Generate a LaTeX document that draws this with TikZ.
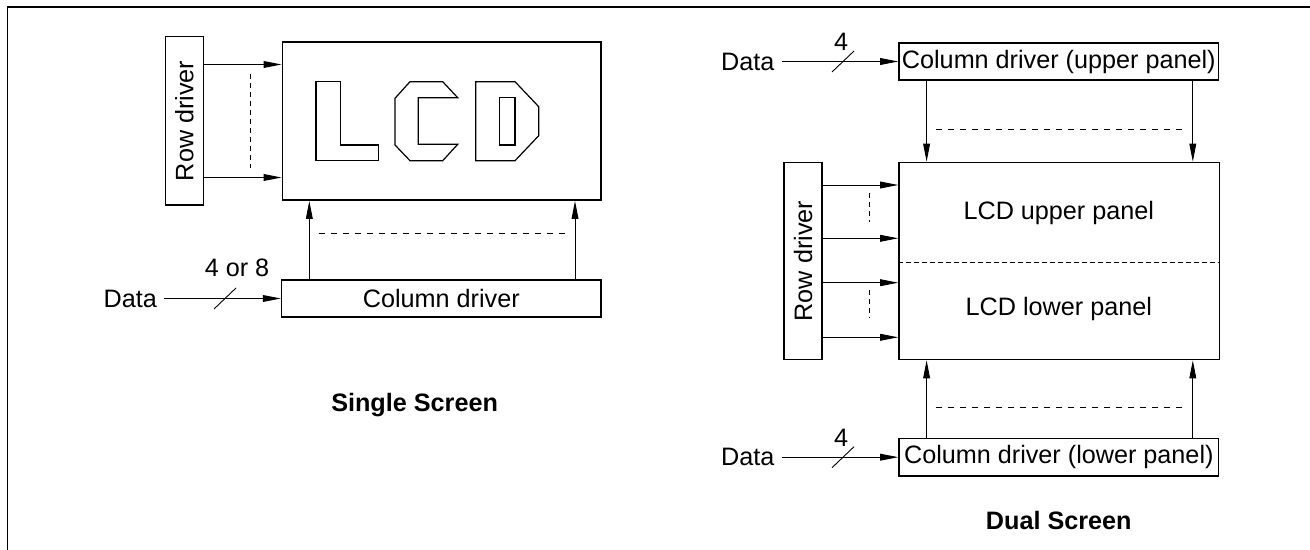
\documentclass[tikz,border=0pt]{standalone}
\usepackage{fontspec}
\setmainfont{Liberation Sans}
\usetikzlibrary{arrows.meta}

\tikzset{
    box/.style={draw, line width=0.85pt, inner sep=0pt},
    arr/.style={-{Triangle[length=9pt,width=3.4pt]}, line width=0.45pt},
    gap/.style={dash pattern=on 3pt off 3pt, line width=0.45pt},
    vgap/.style={dash pattern=on 2.5pt off 2pt, line width=0.45pt},
    glyph/.style={line width=0.6pt, line join=miter},
    txt/.style={font=\fontsize{12.6}{14}\selectfont},
    title/.style={font=\fontsize{12.6}{14}\selectfont\bfseries}
}

\begin{document}
\begin{tikzpicture}[x=0.5pt, y=-0.5pt]
    \useasboundingbox (0,0) rectangle (1310,550);
    \draw[line width=0.8pt] (7.3,550) -- (7.3,7) -- (1310,7);

    % single screen
    \node[box, minimum width=19pt, minimum height=84.3pt, txt] (rowA) at (184.4,120.9) {\rotatebox{90}{Row driver}};
    \node[box, minimum width=159.3pt, minimum height=79pt] (lcdA) at (441.7,121.1) {};
    \node[box, minimum width=159.7pt, minimum height=18.5pt, txt] (colA) at (441.3,298.5) {Column driver};
    \node[anchor=east, txt] (dataA) at (164,298.5) {Data};
    \node[txt] (busA) at (237,268) {4 or 8};
    \node[title] (titleA) at (414.6,405) {Single Screen};

    \draw[glyph] (316,81.7) -- (340.3,81.7) -- (340.3,145) -- (378.7,145) -- (378.7,160.7) -- (316,160.7) -- cycle;
    \draw[glyph] (410,81.7) -- (442.7,81.7) -- (457.7,97.7) -- (418.3,97.7) -- (418.3,144.3) -- (457.7,144.3)
        -- (442.7,160.7) -- (410,160.7) -- (395,145) -- (395,98.3) -- cycle;
    \draw[glyph] (475.7,81.7) -- (515,81.7) -- (538.7,106.7) -- (538.7,135.7) -- (515,160.7) -- (475.7,160.7) -- cycle;
    \draw[glyph] (499.3,97.3) rectangle (515,145);

    \draw[arr] (rowA.east |- 0,64.5) -- (lcdA.west |- 0,64.5);
    \draw[arr] (rowA.east |- 0,177.5) -- (lcdA.west |- 0,177.5);
    \draw[vgap] (250.4,73.7) -- (250.4,168.4);
    \draw[arr] (colA.north -| 309.3,0) -- (lcdA.south -| 309.3,0);
    \draw[arr] (colA.north -| 575,0) -- (lcdA.south -| 575,0);
    \draw[gap] (318.6,233) -- (570.3,233);
    \draw[arr] (dataA.east) -- (colA.west);
    \draw[line width=0.45pt] (225,298.5) +(-11,10.5) -- +(11,-10.5);

    % dual screen
    \node[box, minimum width=159.75pt, minimum height=18.5pt, txt] (colU) at (1058.8,61.5) {Column driver (upper panel)};
    \node[box, minimum width=160.3pt, minimum height=98.5pt] (lcdB) at (1059.3,261) {};
    \node[box, minimum width=19pt, minimum height=98.5pt, txt] (rowB) at (803,261) {\rotatebox{90}{Row driver}};
    \node[box, minimum width=159.75pt, minimum height=18.8pt, txt] (colL) at (1058.8,457.2) {Column driver (lower panel)};
    \node[txt] (upper) at (1058.8,213) {LCD upper panel};
    \node[txt] (lower) at (1058.8,308.7) {LCD lower panel};
    \node[anchor=east, txt] (dataU) at (781.5,61.5) {Data};
    \node[anchor=east, txt] (dataL) at (781.5,457.2) {Data};
    \node[txt] (busU) at (841,41.4) {4};
    \node[txt] (busL) at (841,438) {4};
    \node[title] (titleB) at (1058.8,520) {Dual Screen};

    \draw[arr] (dataU.east) -- (colU.west);
    \draw[arr] (dataL.east) -- (colL.west);
    \draw[line width=0.45pt] (843,61.5) +(-11,10.5) -- +(11,-10.5);
    \draw[line width=0.45pt] (843,457.2) +(-11,10.5) -- +(11,-10.5);

    \draw[arr] (colU.south -| 926.6,0) -- (lcdB.north -| 926.6,0);
    \draw[arr] (colU.south -| 1192.8,0) -- (lcdB.north -| 1192.8,0);
    \draw[gap] (935.7,129.8) -- (1187.4,129.8);
    \draw[arr] (colL.north -| 926.6,0) -- (lcdB.south -| 926.6,0);
    \draw[arr] (colL.north -| 1192.8,0) -- (lcdB.south -| 1192.8,0);
    \draw[gap] (935.7,407.2) -- (1187.4,407.2);
    \draw[dash pattern=on 2.5pt off 1.5pt, line width=0.6pt] (lcdB.west |- 0,262.5) -- (lcdB.east |- 0,262.5);

    \foreach \y in {185,238.3,282.7,337.3}
        \draw[arr] (rowB.east |- 0,\y) -- (lcdB.west |- 0,\y);
    \draw[vgap] (869.3,193) -- (869.3,222);
    \draw[vgap] (869.3,290) -- (869.3,318);
\end{tikzpicture}
\end{document}
